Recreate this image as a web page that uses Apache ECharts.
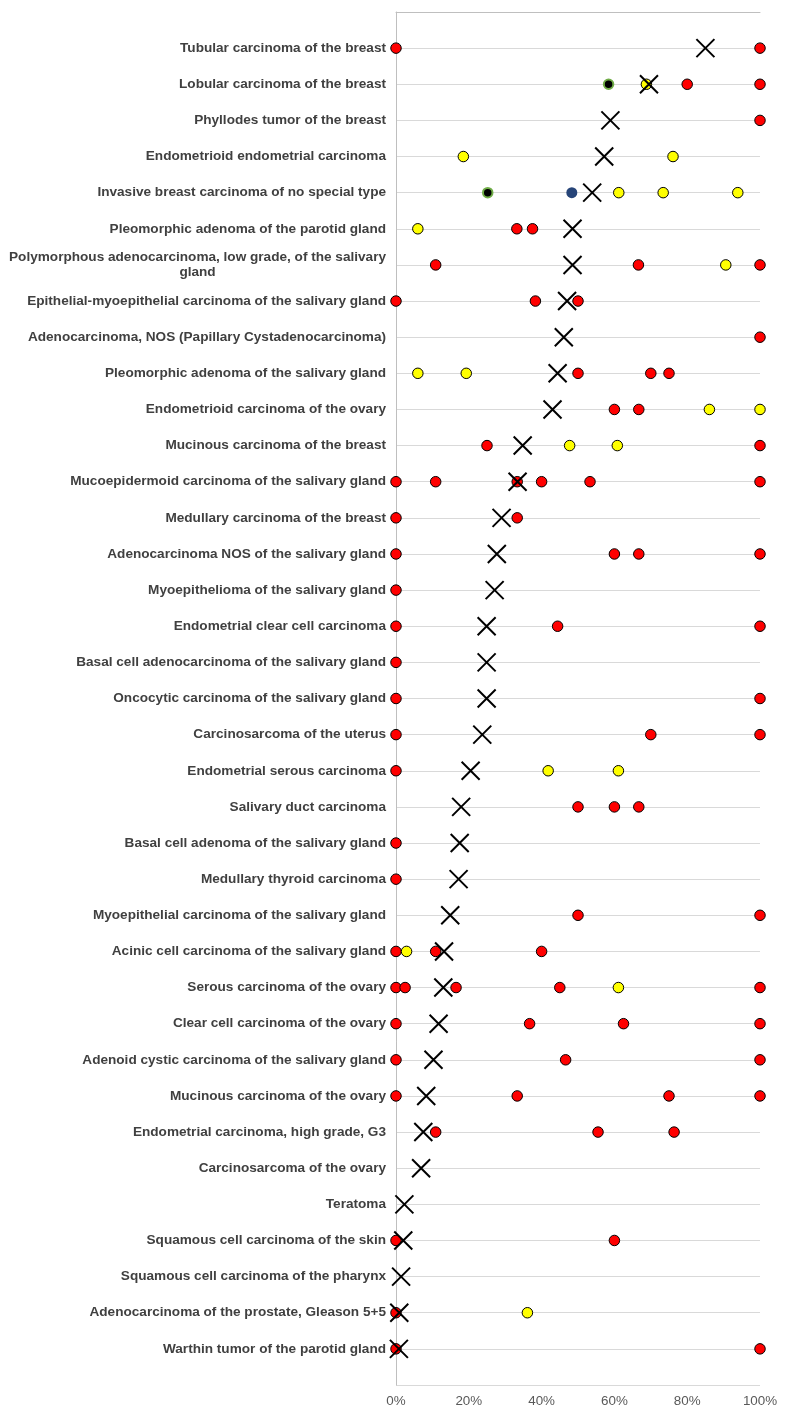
<!DOCTYPE html>
<html>
<head>
<meta charset="utf-8">
<script src="https://cdn.jsdelivr.net/npm/echarts@6/dist/echarts.min.js"></script>
<style>html,body{margin:0;padding:0;background:#fff;}#chart{width:785px;height:1415px;}</style>
</head>
<body>
<div id="chart"></div>
<script>
// Categories, top to bottom
const categories = [
  'Tubular carcinoma of the breast',
  'Lobular carcinoma of the breast',
  'Phyllodes tumor of the breast',
  'Endometrioid endometrial carcinoma',
  'Invasive breast carcinoma of no special type',
  'Pleomorphic adenoma of the parotid gland',
  'Polymorphous adenocarcinoma, low grade, of the salivary\ngland',
  'Epithelial-myoepithelial carcinoma of the salivary gland',
  'Adenocarcinoma, NOS (Papillary Cystadenocarcinoma)',
  'Pleomorphic adenoma of the salivary gland',
  'Endometrioid carcinoma of the ovary',
  'Mucinous carcinoma of the breast',
  'Mucoepidermoid carcinoma of the salivary gland',
  'Medullary carcinoma of the breast',
  'Adenocarcinoma NOS of the salivary gland',
  'Myoepithelioma of the salivary gland',
  'Endometrial clear cell carcinoma',
  'Basal cell adenocarcinoma of the salivary gland',
  'Oncocytic carcinoma of the salivary gland',
  'Carcinosarcoma of the uterus',
  'Endometrial serous carcinoma',
  'Salivary duct carcinoma',
  'Basal cell adenoma of the salivary gland',
  'Medullary thyroid carcinoma',
  'Myoepithelial carcinoma of the salivary gland',
  'Acinic cell carcinoma of the salivary gland',
  'Serous carcinoma of the ovary',
  'Clear cell carcinoma of the ovary',
  'Adenoid cystic carcinoma of the salivary gland',
  'Mucinous carcinoma of the ovary',
  'Endometrial carcinoma, high grade, G3',
  'Carcinosarcoma of the ovary',
  'Teratoma',
  'Squamous cell carcinoma of the skin',
  'Squamous cell carcinoma of the pharynx',
  'Adenocarcinoma of the prostate, Gleason 5+5',
  'Warthin tumor of the parotid gland'
];

// Red points (per category)
const redValues = [
  [0, 100], [80, 100], [100], [], [],
  [33.2, 37.5], [10.9, 66.6, 100], [0, 38.3, 50], [100], [50, 70, 75],
  [60, 66.7], [25, 100], [0, 10.9, 33.3, 40, 53.3, 100], [0, 33.3], [0, 60, 66.7, 100],
  [0], [0, 44.4, 100], [0], [0, 100], [0, 70, 100],
  [0], [50, 60, 66.7], [0], [0], [50, 100],
  [0, 10.9, 40], [0, 2.5, 16.5, 45, 100], [0, 36.7, 62.5, 100], [0, 46.6, 100], [0, 33.3, 75, 100],
  [10.9, 55.5, 76.4], [], [], [0, 60], [],
  [0], [0, 100]
];

// Yellow points
const yellowValues = [
  [], [68.8], [], [18.5, 76.1], [61.2, 73.4, 93.9],
  [6.0], [90.6], [], [], [6.0, 19.3],
  [86.1, 100], [47.7, 60.8], [], [], [],
  [], [], [], [], [],
  [41.8, 61.1], [], [], [], [],
  [2.9], [61.1], [], [], [],
  [], [], [], [], [],
  [36.1], []
];

// Black points with green outline
const greenValues = [
  [], [58.4], [], [], [25.2]
];

// Dark blue points
const navyValues = [
  [], [], [], [], [48.3]
];

// Mean (X markers)
const meanValues = [
  85.0, 69.5, 58.9, 57.2, 53.9, 48.5, 48.5, 47.0, 46.1, 44.4,
  43.0, 34.8, 33.4, 29.0, 27.7, 27.1, 24.9, 24.9, 24.9, 23.7,
  20.5, 17.9, 17.5, 17.2, 14.9, 13.2, 13.0, 11.7, 10.3, 8.3,
  7.5, 6.9, 2.3, 2.0, 1.4, 0.9, 0.8
];

const xTicks = [0, 20, 40, 60, 80, 100];

function toPoints(rows) {
  const out = [];
  rows.forEach((vals, i) => vals.forEach(v => out.push([v, i + 1])));
  return out;
}

const FONT = "'Liberation Sans', Arial, sans-serif";
const LABEL_SIZE = 13.6;

// measure first line of wrapped label for centered second line
const cv = document.createElement('canvas').getContext('2d');
cv.font = 'bold ' + LABEL_SIZE + 'px ' + FONT;
const wrapped = categories.find(c => c.indexOf('\n') >= 0);
const firstLineW = Math.ceil(cv.measureText(wrapped.split('\n')[0]).width);

const chart = echarts.init(document.getElementById('chart'), null, { renderer: 'canvas' });

const circleBase = {
  type: 'scatter',
  symbol: 'circle',
  clip: false,
  animation: false
};

chart.setOption({
  backgroundColor: '#ffffff',
  animation: false,
  grid: { left: 396, right: 25, top: 12, bottom: 30, containLabel: false },
  xAxis: {
    type: 'value',
    min: 0, max: 100, interval: 20,
    axisLine: { show: true, lineStyle: { color: '#bfbfbf', width: 1 } },
    axisTick: { show: false },
    splitLine: { show: false },
    axisLabel: {
      formatter: v => xTicks.indexOf(v) >= 0 ? v + '%' : '',
      color: '#595959', fontFamily: FONT, fontSize: 13.4, margin: 10
    }
  },
  yAxis: {
    type: 'value',
    inverse: true,
    min: 0, max: 38, interval: 1,
    axisLine: { show: true, lineStyle: { color: '#bfbfbf', width: 1 } },
    axisTick: { show: false },
    splitLine: { show: true, lineStyle: { color: '#d9d9d9', width: 1 } },
    axisLabel: {
      margin: 10,
      color: '#404040', fontFamily: FONT, fontSize: LABEL_SIZE, fontWeight: 'bold',
      lineHeight: 15,
      formatter: v => {
        const c = categories[v - 1];
        if (!c) return '';
        if (c.indexOf('\n') >= 0) {
          const parts = c.split('\n');
          return parts[0] + '\n{c|' + parts[1] + '}';
        }
        return c;
      },
      rich: {
        c: {
          width: firstLineW, align: 'center',
          color: '#404040', fontFamily: FONT, fontSize: LABEL_SIZE, fontWeight: 'bold', lineHeight: 15
        }
      }
    }
  },
  series: [
    Object.assign({}, circleBase, {
      name: 'red', symbolSize: 10.5, z: 3,
      itemStyle: { color: '#ff0000', borderColor: '#000000', borderWidth: 1, opacity: 1 },
      data: toPoints(redValues)
    }),
    Object.assign({}, circleBase, {
      name: 'yellow', symbolSize: 10.5, z: 3,
      itemStyle: { color: '#ffff00', borderColor: '#000000', borderWidth: 1, opacity: 1 },
      data: toPoints(yellowValues)
    }),
    Object.assign({}, circleBase, {
      name: 'green', symbolSize: 9.5, z: 3,
      itemStyle: { color: '#000000', borderColor: '#70ad47', borderWidth: 2, opacity: 1 },
      data: toPoints(greenValues)
    }),
    Object.assign({}, circleBase, {
      name: 'navy', symbolSize: 11, z: 3,
      itemStyle: { color: '#264478', opacity: 1 },
      data: toPoints(navyValues)
    }),
    {
      type: 'scatter', name: 'mean', clip: false, z: 4,
      symbol: 'path://M0,0L10,10M10,0L0,10',
      symbolSize: 18,
      itemStyle: { color: 'none', borderColor: '#000000', borderWidth: 2, opacity: 1 },
      data: meanValues.map((v, i) => [v, i + 1])
    }
  ]
});
</script>
</body>
</html>
